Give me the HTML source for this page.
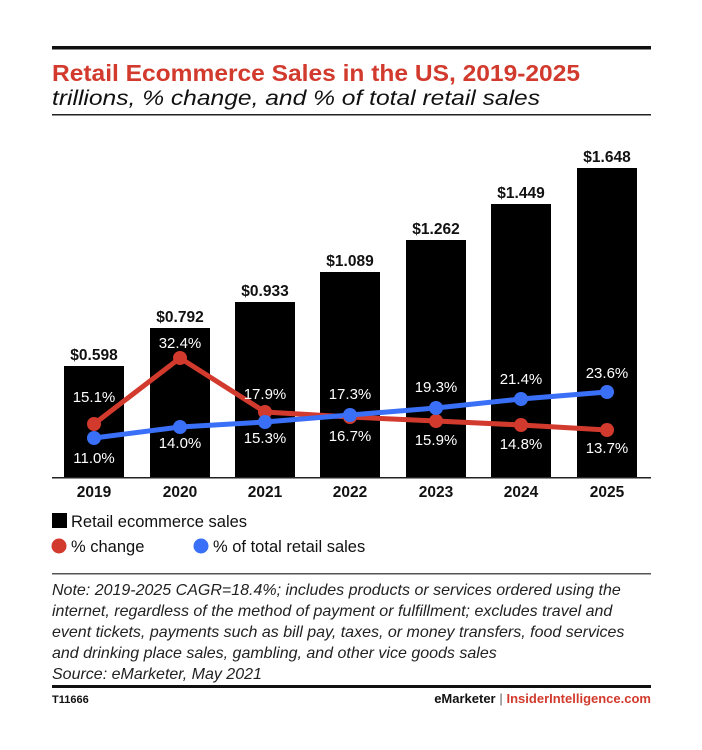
<!DOCTYPE html>
<html><head><style>
body{margin:0;background:#fff;width:702px;height:745px;overflow:hidden;font-family:"Liberation Sans",sans-serif}
</style></head><body>
<svg width="702" height="745" xmlns="http://www.w3.org/2000/svg" font-family="Liberation Sans, sans-serif">
<rect x="52" y="46" width="599" height="3.5" fill="#111"/>
<text x="52" y="81" font-size="23" font-weight="bold" fill="#d23a2d" textLength="528" lengthAdjust="spacingAndGlyphs">Retail Ecommerce Sales in the US, 2019-2025</text>
<text x="52" y="105" font-size="21" font-style="italic" fill="#111" textLength="488" lengthAdjust="spacingAndGlyphs">trillions, % change, and % of total retail sales</text>
<rect x="52" y="114" width="599" height="1.5" fill="#222"/>
<g fill="#000">
<rect x="64" y="366" width="60" height="112"/>
<rect x="150" y="328" width="60" height="150"/>
<rect x="235" y="302" width="60" height="176"/>
<rect x="320" y="272" width="60" height="206"/>
<rect x="406" y="240" width="60" height="238"/>
<rect x="491" y="204" width="60" height="274"/>
<rect x="577" y="168" width="60" height="310"/>
</g>
<rect x="52" y="477" width="599" height="1.5" fill="#222"/>
<g font-size="15.5" font-weight="bold" fill="#111" text-anchor="middle">
<text x="94" y="360">$0.598</text><text x="180" y="322">$0.792</text><text x="265" y="296">$0.933</text>
<text x="350" y="266">$1.089</text><text x="436" y="234">$1.262</text><text x="521" y="198">$1.449</text><text x="607" y="162">$1.648</text>
<text x="94" y="497">2019</text><text x="180" y="497">2020</text><text x="265" y="497">2021</text><text x="350" y="497">2022</text><text x="436" y="497">2023</text><text x="521" y="497">2024</text><text x="607" y="497">2025</text>
</g>
<polyline points="94,424 180,358 265,412 350,417 436,421 521,425 607,430" fill="none" stroke="#d23a2d" stroke-width="5"/>
<polyline points="94,438 180,427 265,422 350,415 436,408 521,399 607,392" fill="none" stroke="#3a6ff7" stroke-width="5"/>
<g fill="#d23a2d"><circle cx="94" cy="424" r="7"/><circle cx="180" cy="358" r="7"/><circle cx="265" cy="412" r="7"/><circle cx="350" cy="417" r="7"/><circle cx="436" cy="421" r="7"/><circle cx="521" cy="425" r="7"/><circle cx="607" cy="430" r="7"/></g>
<g fill="#3a6ff7"><circle cx="94" cy="438" r="7"/><circle cx="180" cy="427" r="7"/><circle cx="265" cy="422" r="7"/><circle cx="350" cy="415" r="7"/><circle cx="436" cy="408" r="7"/><circle cx="521" cy="399" r="7"/><circle cx="607" cy="392" r="7"/></g>
<g font-size="15" fill="#fff" text-anchor="middle">
<text x="94" y="402">15.1%</text><text x="94" y="463">11.0%</text>
<text x="180" y="348">32.4%</text><text x="180" y="448">14.0%</text>
<text x="265" y="399">17.9%</text><text x="265" y="443">15.3%</text>
<text x="350" y="399">17.3%</text><text x="350" y="441">16.7%</text>
<text x="436" y="392">19.3%</text><text x="436" y="445">15.9%</text>
<text x="521" y="384">21.4%</text><text x="521" y="449">14.8%</text>
<text x="607" y="378">23.6%</text><text x="607" y="453">13.7%</text>
</g>
<rect x="52" y="513" width="15" height="15" fill="#000"/>
<text x="71" y="527" font-size="16.5" fill="#111">Retail ecommerce sales</text>
<circle cx="59" cy="546" r="7.5" fill="#d23a2d"/>
<text x="71" y="552" font-size="16.5" fill="#111">% change</text>
<circle cx="201" cy="546" r="7.5" fill="#3a6ff7"/>
<text x="213" y="552" font-size="16.5" fill="#111">% of total retail sales</text>
<rect x="52" y="573" width="599" height="1.5" fill="#555"/>
<g font-size="16" font-style="italic" fill="#222">
<text x="52" y="595">Note: 2019-2025 CAGR=18.4%; includes products or services ordered using the</text>
<text x="52" y="616">internet, regardless of the method of payment or fulfillment; excludes travel and</text>
<text x="52" y="637">event tickets, payments such as bill pay, taxes, or money transfers, food services</text>
<text x="52" y="658">and drinking place sales, gambling, and other vice goods sales</text>
<text x="52" y="679">Source: eMarketer, May 2021</text>
</g>
<rect x="52" y="685" width="599" height="3" fill="#111"/>
<text x="52" y="703" font-size="11" font-weight="bold" fill="#111">T11666</text>
<text x="651" y="703" font-size="13" font-weight="bold" fill="#d23a2d" text-anchor="end"><tspan fill="#111">eMarketer</tspan><tspan fill="#999"> | </tspan>InsiderIntelligence.com</text>
</svg>
</body></html>
